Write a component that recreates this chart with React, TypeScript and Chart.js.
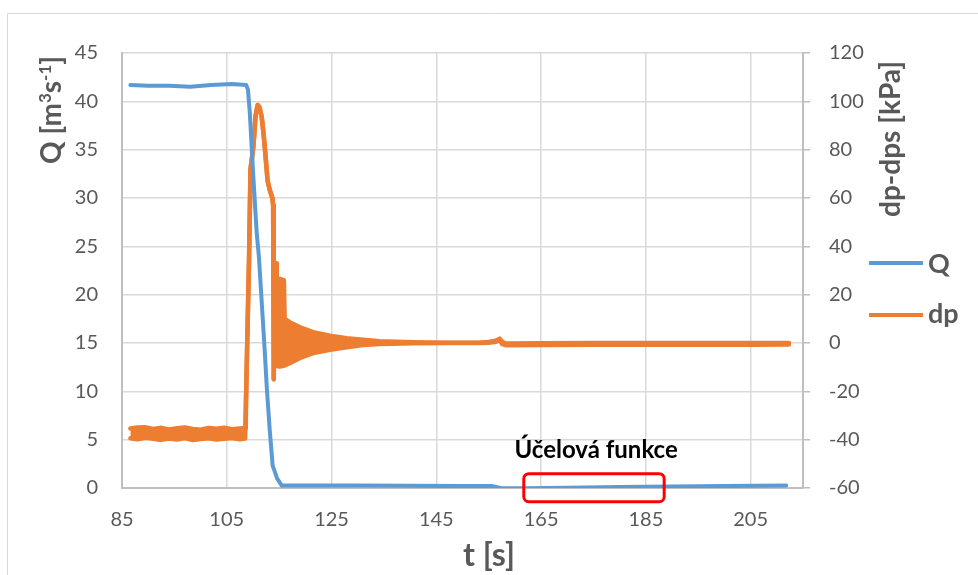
import React, { useEffect, useRef } from "react";
import { Chart, registerables } from "chart.js";

Chart.register(...registerables);

// ---- data ----
const qTime = [86.6, 90, 94, 98, 102, 106, 108.7, 109.05, 109.4, 110.07, 110.7, 111.15, 111.7, 112.2, 112.65, 113.2, 113.76, 114.1, 114.6, 115.5, 120, 130, 140, 150, 155.5, 157.3, 162, 170, 180, 190, 200, 211.8];
const qValues = [41.7, 41.6, 41.6, 41.5, 41.7, 41.8, 41.7, 41.2, 38.8, 32.2, 26.5, 23.8, 19.0, 14.6, 10.3, 6.0, 2.3, 1.8, 1.0, 0.25, 0.25, 0.25, 0.22, 0.2, 0.2, 0.0, -0.02, 0.02, 0.1, 0.15, 0.2, 0.25];

const dpTime = [86.6, 88, 89.5, 91, 92.5, 94, 95.5, 97, 98.5, 100, 101.5, 103, 104.5, 106, 107.5, 108.5, 108.62, 108.68, 109.02, 109.25, 109.53, 110.07, 110.5, 110.9, 111.25, 111.67, 112.0, 112.3, 112.8, 113.25, 113.7, 113.85, 113.97, 114.05, 114.45, 114.55, 115.1, 115.9, 116.05, 117.1, 119, 121.5, 124.7, 127.9, 131, 134.2, 140.5, 147, 153, 155, 156.3, 157.1, 157.6, 158.2, 165, 175, 185, 195, 205, 212.3];
const dpUpper = [-35.4, -35.0, -34.9, -35.6, -35.1, -35.8, -35.3, -35.0, -35.6, -35.9, -35.2, -35.5, -35.1, -35.7, -35.4, -35.2, -35.3, -23, 12, 34, 72, 81, 94, 98.5, 97.5, 93.5, 87, 80, 67, 63, 60, 57, -15, 33, 33, 26.5, 26.5, 26, 10, 8.5, 6.5, 4.5, 3.0, 2.0, 1.3, 0.7, 0.3, 0.15, 0.15, 0.4, 0.9, 1.8, 0.5, -0.2, -0.1, 0.0, 0.0, 0.0, 0.0, 0.0];
const dpLower = [-39.4, -39.8, -39.2, -39.6, -40.1, -39.5, -39.9, -39.3, -40.2, -39.7, -39.4, -39.9, -39.6, -39.3, -39.8, -39.5, -39.5, -23, 12, 34, 72, 81, 94, 98.5, 97.5, 93.5, 87, 80, 67, 63, 60, 57, -15, -4, -8, -9.5, -9.7, -9.4, -9.3, -8.3, -6.2, -4.2, -2.8, -1.8, -0.8, -0.4, -0.1, 0.0, 0.0, 0.1, 0.5, 1.2, -0.5, -0.9, -0.8, -0.7, -0.7, -0.7, -0.7, -0.6];

const xTicks = [85, 105, 125, 145, 165, 185, 205];

const annotationText = "Účelová funkce";
const annotationAt = [175.5, 3.1];
const boxFrom = [161.7, -1.42];
const boxTo = [188.5, 1.48];

const FONT = "Lato, 'Open Sans', sans-serif";
const GRAY = "#595959";

function drawRich(ctx: CanvasRenderingContext2D, parts: { t: string; sup?: boolean }[], mainFont: string, supFont: string, supRise: number) {
  let w = 0;
  for (const p of parts) {
    ctx.font = p.sup ? supFont : mainFont;
    w += ctx.measureText(p.t).width;
  }
  let x = -w / 2;
  for (const p of parts) {
    ctx.font = p.sup ? supFont : mainFont;
    ctx.fillText(p.t, x, p.sup ? -supRise : 0);
    x += ctx.measureText(p.t).width;
  }
}

const overlay = {
  id: "overlay",
  afterDraw(chart: any) {
    const ctx: CanvasRenderingContext2D = chart.ctx;
    const xs = chart.scales.x;
    const ys = chart.scales.y;
    ctx.save();
    // outer frame
    ctx.strokeStyle = "#d9d9d9";
    ctx.lineWidth = 1;
    ctx.beginPath();
    ctx.moveTo(7.5, 600);
    ctx.lineTo(7.5, 13.5);
    ctx.lineTo(1000, 13.5);
    ctx.stroke();

    ctx.fillStyle = GRAY;
    ctx.textAlign = "left";
    ctx.textBaseline = "alphabetic";
    // left title
    ctx.save();
    ctx.translate(61, 110);
    ctx.rotate(-Math.PI / 2);
    drawRich(ctx, [{ t: "Q [m" }, { t: "3", sup: true }, { t: "s" }, { t: "-1", sup: true }, { t: "]" }], `bold 28px ${FONT}`, `bold 17px ${FONT}`, 10);
    ctx.restore();
    // right title
    ctx.save();
    ctx.translate(900, 139);
    ctx.rotate(-Math.PI / 2);
    drawRich(ctx, [{ t: "dp-dps [kPa]" }], `bold 28px ${FONT}`, `bold 17px ${FONT}`, 10);
    ctx.restore();
    // x title
    ctx.save();
    ctx.translate(489, 566);
    drawRich(ctx, [{ t: "t [s]" }], `bold 32px ${FONT}`, `bold 17px ${FONT}`, 10);
    ctx.restore();

    // legend
    const ds = chart.data.datasets;
    const legendRows = [
      { label: ds[0].label, color: ds[0].borderColor, y: 263, base: 273 },
      { label: ds[1].label, color: ds[1].borderColor, y: 315, base: 323 },
    ];
    for (const r of legendRows) {
      ctx.strokeStyle = r.color;
      ctx.lineWidth = 4;
      ctx.beginPath();
      ctx.moveTo(869, r.y);
      ctx.lineTo(923, r.y);
      ctx.stroke();
      ctx.fillStyle = GRAY;
      ctx.font = `bold 27px ${FONT}`;
      ctx.textAlign = "left";
      ctx.fillText(r.label, 928, r.base);
    }

    // annotation
    ctx.fillStyle = "#000000";
    ctx.font = `bold 24px ${FONT}`;
    ctx.textAlign = "center";
    ctx.fillText(annotationText, xs.getPixelForValue(annotationAt[0]), ys.getPixelForValue(annotationAt[1]));
    const x1 = xs.getPixelForValue(boxFrom[0]);
    const x2 = xs.getPixelForValue(boxTo[0]);
    const y1 = ys.getPixelForValue(boxTo[1]);
    const y2 = ys.getPixelForValue(boxFrom[1]);
    ctx.strokeStyle = "#ff0000";
    ctx.lineWidth = 3;
    ctx.beginPath();
    (ctx as any).roundRect(x1, y1, x2 - x1, y2 - y1, 5);
    ctx.stroke();
    ctx.restore();
  },
};

export default function App() {
  const ref = useRef<HTMLCanvasElement | null>(null);
  useEffect(() => {
    if (!ref.current) return;
    const tickFont = { family: FONT, size: 20 };
    const chart = new Chart(ref.current, {
      type: "line",
      data: {
        datasets: [
          {
            label: "Q",
            data: qTime.map((t, i) => ({ x: t, y: qValues[i] })),
            yAxisID: "y",
            borderColor: "#5b9bd5",
            borderWidth: 4,
            pointRadius: 0,
            tension: 0,
            fill: false,
            borderJoinStyle: "round",
            borderCapStyle: "round",
          },
          {
            label: "dp",
            data: dpTime.map((t, i) => ({ x: t, y: dpUpper[i] })),
            yAxisID: "y1",
            borderColor: "#ed7d31",
            backgroundColor: "#ed7d31",
            borderWidth: 4.5,
            pointRadius: 0,
            tension: 0,
            fill: "+1",
            borderJoinStyle: "round",
            borderCapStyle: "round",
          },
          {
            label: "dp_low",
            data: dpTime.map((t, i) => ({ x: t, y: dpLower[i] })),
            yAxisID: "y1",
            borderColor: "#ed7d31",
            borderWidth: 4.5,
            pointRadius: 0,
            tension: 0,
            fill: false,
            borderJoinStyle: "round",
            borderCapStyle: "round",
          },
        ],
      } as any,
      options: {
        animation: false,
        responsive: false,
        devicePixelRatio: 1,
        layout: { padding: { top: 53, left: 0, right: 0, bottom: 0 } },
        plugins: { legend: { display: false }, tooltip: { enabled: false } },
        scales: {
          x: {
            type: "linear",
            min: 85,
            max: 215,
            afterBuildTicks: (s: any) => {
              s.ticks = xTicks.map((v) => ({ value: v }));
            },
            afterFit: (s: any) => {
              s.height = 87;
            },
            grid: { color: "#d9d9d9", lineWidth: 1.5, drawTicks: false },
            border: { color: "#bfbfbf", width: 2 },
            ticks: { padding: 20, font: tickFont, color: GRAY, maxRotation: 0, autoSkip: false },
          },
          y: {
            position: "left",
            min: 0,
            max: 45,
            afterFit: (s: any) => {
              s.width = 122;
            },
            grid: { color: "#d9d9d9", lineWidth: 1.5, drawTicks: false },
            border: { color: "#bfbfbf", width: 2 },
            ticks: { stepSize: 5, padding: 24, font: tickFont, color: GRAY },
          },
          y1: {
            position: "right",
            min: -60,
            max: 120,
            afterFit: (s: any) => {
              s.width = 175;
            },
            grid: { drawOnChartArea: false, drawTicks: true, tickLength: 7, color: "#bfbfbf", lineWidth: 1.5 },
            border: { color: "#bfbfbf", width: 2 },
            ticks: { stepSize: 20, padding: 19, font: tickFont, color: GRAY },
          },
        },
      } as any,
      plugins: [overlay],
    });
    return () => chart.destroy();
  }, []);
  return (
    <div style={{ position: "fixed", left: 0, top: 0, width: 978, height: 575, background: "#fff" }}>
      <canvas ref={ref} width={978} height={575} style={{ display: "block" }} />
    </div>
  );
}
